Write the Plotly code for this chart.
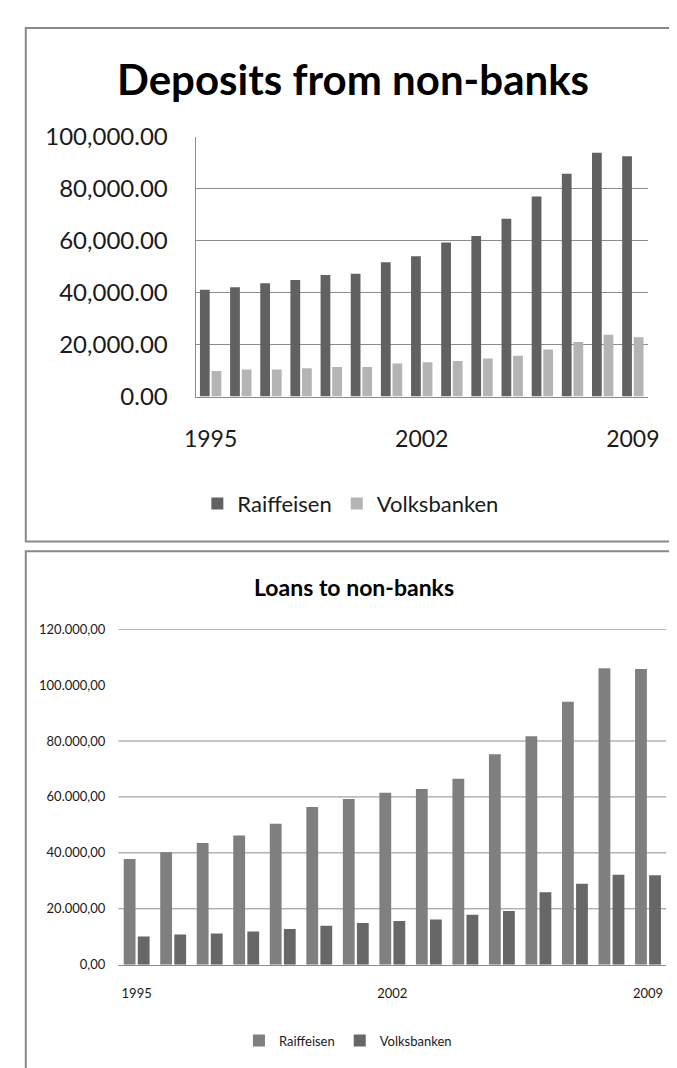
import plotly.graph_objects as go

years = [str(y) for y in range(1995, 2010)]

# deposits from non-banks
dep_raiffeisen = [41100, 42100, 43600, 44900, 46800, 47300, 51700, 54000,
                  59300, 61800, 68500, 77000, 85800, 93900, 92500]
dep_volksbanken = [9850, 10400, 10400, 10900, 11350, 11350, 12700, 13200,
                   13700, 14700, 15700, 18100, 21000, 23850, 22850]
dep_ticks = [0, 20000, 40000, 60000, 80000, 100000]
dep_ticktext = ["0.00", "20,000.00", "40,000.00", "60,000.00", "80,000.00", "100,000.00"]

# loans to non-banks
loan_raiffeisen = [37800, 40200, 43500, 46200, 50400, 56400, 59300, 61500,
                   62800, 66500, 75300, 81700, 94000, 106000, 105700]
loan_volksbanken = [10100, 10800, 11200, 11900, 12800, 13900, 14900, 15600,
                    16200, 17900, 19200, 25900, 29000, 32200, 32000]
loan_ticks = [0, 20000, 40000, 60000, 80000, 100000, 120000]
loan_ticktext = ["0,00", "20.000,00", "40.000,00", "60.000,00", "80.000,00",
                 "100.000,00", "120.000,00"]
loan_grid = [20000, 40000, 60000, 80000, 120000]

year_labels = ["1995", "2002", "2009"]

W, H = 677, 1068
FONT = "Lato"
GRID = "#8c8c8c"

fig = go.Figure()

fig.add_trace(go.Bar(x=years, y=dep_raiffeisen, name="Raiffeisen", marker_color="#616161",
                     marker_line_width=0, xaxis="x", yaxis="y", legend="legend"))
fig.add_trace(go.Bar(x=years, y=dep_volksbanken, name="Volksbanken", marker_color="#b4b4b4",
                     marker_line_width=0, xaxis="x", yaxis="y", legend="legend"))
fig.add_trace(go.Bar(x=years, y=loan_raiffeisen, name="Raiffeisen", marker_color="#7f7f7f",
                     marker_line_width=0, xaxis="x2", yaxis="y2", legend="legend2"))
fig.add_trace(go.Bar(x=years, y=loan_volksbanken, name="Volksbanken", marker_color="#676767",
                     marker_line_width=0, xaxis="x2", yaxis="y2", legend="legend2"))

shapes = []
# chart frames
shapes.append(dict(type="rect", xref="paper", yref="paper",
                   x0=6 / W, x1=1.01, y0=1 - 532 / H, y1=1 - 4 / H,
                   line=dict(color="#888888", width=2), layer="below"))
shapes.append(dict(type="rect", xref="paper", yref="paper",
                   x0=6 / W, x1=1.01, y0=-0.01, y1=1 - 542 / H,
                   line=dict(color="#888888", width=2), layer="below"))
# bottom chart gridlines (no line at 100.000 in the original)
for v in loan_grid:
    shapes.append(dict(type="line", xref="x2 domain", yref="y2", x0=0, x1=1, y0=v, y1=v,
                       line=dict(color=GRID, width=1), layer="below"))

fig.update_layout(
    width=W, height=H,
    margin=dict(l=0, r=0, t=0, b=0),
    paper_bgcolor="white", plot_bgcolor="white",
    font=dict(family=FONT, color="#1a1a1a"),
    barmode="group",
    bargap=0.23, bargroupgap=0.16,
    shapes=shapes,
    xaxis=dict(domain=[182 / W, 651 / W], anchor="y", type="category",
               tickvals=year_labels, ticktext=year_labels, showgrid=False,
               showline=True, linecolor=GRID, linewidth=1, ticks="",
               tickfont=dict(size=23), ticklabelstandoff=22),
    yaxis=dict(domain=[1 - 383 / H, 1 - 116 / H], anchor="x", range=[0, 100000],
               tickvals=dep_ticks, ticktext=dep_ticktext, showgrid=True, gridcolor=GRID,
               gridwidth=1, showline=True, linecolor=GRID, linewidth=1, zeroline=False,
               ticks="", tickfont=dict(size=24), ticklabelstandoff=22),
    xaxis2=dict(domain=[102 / W, 670 / W], anchor="y2", type="category",
                tickvals=year_labels, ticktext=year_labels, showgrid=False,
                showline=True, linecolor=GRID, linewidth=1, ticks="",
                tickfont=dict(size=13), ticklabelstandoff=17),
    yaxis2=dict(domain=[1 - 967 / H, 1 - 622 / H], anchor="x2", range=[0, 120000],
                tickvals=loan_ticks, ticktext=loan_ticktext, showgrid=False,
                showline=False, zeroline=False, ticks="",
                tickfont=dict(size=13), ticklabelstandoff=12),
    legend=dict(orientation="h", x=343 / W, xanchor="center", y=1 - 493 / H,
                yanchor="middle", font=dict(size=22), bgcolor="rgba(0,0,0,0)"),
    legend2=dict(orientation="h", x=340 / W, xanchor="center", y=1 - 1045 / H,
                 yanchor="middle", font=dict(size=13), bgcolor="rgba(0,0,0,0)"),
    annotations=[
        dict(text="<b>Deposits from non-banks</b>", xref="paper", yref="paper",
             x=345 / W, y=1 - 57 / H, xanchor="center", yanchor="middle",
             showarrow=False, font=dict(size=42, color="black")),
        dict(text="<b>Loans to non-banks</b>", xref="paper", yref="paper",
             x=346 / W, y=1 - 579 / H, xanchor="center", yanchor="middle",
             showarrow=False, font=dict(size=23, color="black")),
    ],
)

fig.write_html("out.html")
